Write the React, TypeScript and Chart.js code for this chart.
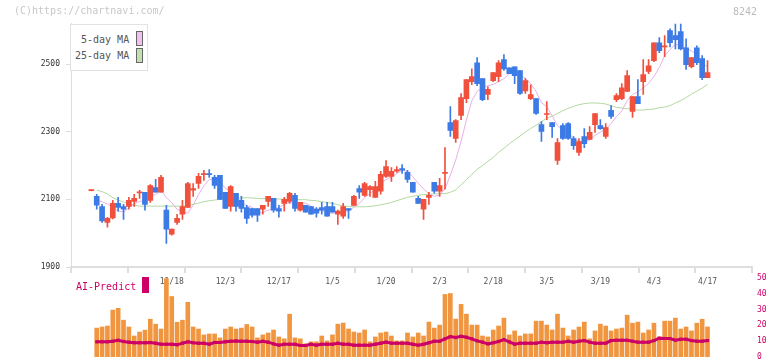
import React, { useEffect, useRef } from 'react';
import { Chart, registerables } from 'chart.js';

Chart.register(...registerables);

// ---- data ----
const dates = [
  '10/27','10/28','10/29','10/30','10/31','11/4','11/5','11/6','11/7','11/10',
  '11/11','11/12','11/13','11/14','11/17','11/18','11/19','11/20','11/21','11/25',
  '11/26','11/27','11/28','12/1','12/2','12/3','12/4','12/5','12/8','12/9',
  '12/10','12/11','12/12','12/15','12/16','12/17','12/18','12/19','12/22','12/23',
  '12/24','12/25','12/26','12/29','12/30','1/5','1/6','1/7','1/8','1/9',
  '1/13','1/14','1/15','1/16','1/19','1/20','1/21','1/22','1/23','1/26',
  '1/27','1/28','1/29','1/30','2/2','2/3','2/4','2/5','2/6','2/9',
  '2/10','2/12','2/13','2/16','2/17','2/18','2/19','2/20','2/24','2/25',
  '2/26','2/27','3/2','3/3','3/4','3/5','3/6','3/9','3/10','3/11',
  '3/12','3/13','3/16','3/17','3/18','3/19','3/23','3/24','3/25','3/26',
  '3/27','3/30','3/31','4/1','4/2','4/3','4/6','4/7','4/8','4/9',
  '4/10','4/13','4/14','4/15','4/16','4/17',
];

const opens = [
  2126,2109,2079,2032,2045,2088,2079,2079,2094,2119,
  2121,2097,2135,2121,2068,1997,2032,2056,2076,2127,
  2147,2173,2176,2165,2171,2121,2079,2118,2097,2076,
  2073,2073,2071,2094,2103,2073,2088,2094,2112,2068,
  2082,2079,2071,2076,2079,2079,2056,2050,2073,2082,
  2132,2112,2129,2106,2124,2168,2168,2183,2191,2180,
  2150,2103,2071,2106,2150,2124,2177,2327,2280,2348,
  2398,2448,2504,2457,2410,2451,2463,2513,2489,2492,
  2481,2421,2398,2398,2321,2351,2327,2215,2318,2324,
  2280,2239,2286,2277,2321,2318,2286,2363,2395,2398,
  2419,2360,2404,2448,2478,2510,2563,2551,2599,2584,
  2596,2548,2492,2548,2516,2460,
];

const highs = [
  2128,2115,2085,2047,2097,2106,2085,2106,2115,2127,
  2121,2144,2159,2171,2082,2012,2056,2097,2150,2147,
  2177,2186,2188,2171,2171,2121,2141,2118,2109,2082,
  2073,2073,2082,2109,2103,2082,2106,2121,2118,2091,
  2082,2079,2076,2091,2091,2091,2068,2088,2073,2112,
  2141,2150,2141,2153,2183,2215,2194,2197,2203,2186,
  2150,2109,2100,2121,2150,2162,2253,2374,2336,2413,
  2454,2486,2519,2457,2433,2475,2510,2528,2489,2492,
  2481,2457,2439,2398,2330,2389,2327,2280,2324,2327,
  2286,2280,2309,2315,2354,2336,2324,2377,2413,2442,
  2481,2404,2454,2513,2513,2563,2578,2584,2604,2619,
  2619,2575,2519,2554,2525,2510,
];

const lows = [
  2125,2071,2032,2018,2042,2065,2041,2071,2079,2103,
  2068,2091,2121,2121,1970,1994,2026,2041,2076,2109,
  2132,2156,2165,2132,2100,2073,2065,2065,2062,2029,
  2047,2035,2056,2079,2062,2047,2065,2088,2065,2065,
  2062,2056,2047,2056,2050,2062,2026,2044,2044,2082,
  2103,2109,2109,2106,2115,2165,2153,2180,2177,2150,
  2121,2088,2041,2085,2118,2109,2130,2286,2268,2336,
  2386,2439,2436,2392,2395,2448,2448,2481,2472,2442,
  2410,2413,2395,2351,2271,2336,2283,2203,2277,2277,
  2248,2230,2253,2277,2298,2307,2280,2339,2389,2395,
  2419,2342,2383,2410,2472,2507,2534,2522,2551,2545,
  2542,2484,2489,2498,2454,2460,
];

const closes = [
  2127,2083,2036,2044,2088,2076,2071,2097,2103,2122,
  2085,2141,2121,2165,2012,2012,2044,2079,2147,2132,
  2168,2176,2173,2141,2100,2073,2138,2079,2073,2044,
  2053,2053,2082,2109,2068,2065,2100,2118,2073,2091,
  2062,2056,2059,2068,2050,2062,2065,2079,2068,2109,
  2121,2147,2138,2138,2174,2197,2183,2188,2186,2159,
  2121,2088,2100,2112,2124,2141,2180,2304,2333,2401,
  2454,2463,2442,2395,2425,2475,2504,2486,2472,2466,
  2413,2451,2410,2354,2301,2354,2315,2268,2280,2280,
  2259,2271,2265,2298,2354,2309,2312,2345,2407,2430,
  2466,2404,2383,2469,2495,2563,2540,2554,2563,2572,
  2545,2498,2519,2504,2460,2475,
];

const ma5 = [
  null,2098,2093,2086,2076,2065,2063,2075,2087,2094,
  2096,2110,2114,2127,2105,2090,2071,2062,2059,2083,
  2114,2140,2159,2158,2152,2133,2125,2106,2093,2081,
  2077,2060,2061,2068,2073,2075,2085,2092,2085,2089,
  2089,2080,2068,2067,2059,2059,2061,2065,2065,2077,
  2088,2105,2117,2131,2144,2159,2166,2176,2186,2183,
  2167,2148,2131,2116,2109,2113,2131,2172,2216,2272,
  2334,2391,2419,2431,2436,2440,2448,2457,2472,2481,
  2468,2458,2442,2419,2386,2374,2347,2318,2304,2299,
  2280,2272,2271,2275,2289,2299,2308,2324,2345,2361,
  2392,2410,2418,2430,2443,2463,2490,2524,2543,2558,
  2555,2546,2539,2528,2505,2491,
];

const ma25 = [
  null,2127,2123,2116,2105,2098,2092,2087,2082,2080,
  2080,2080,2080,2080,2080,2080,2080,2080,2081,2085,
  2089,2093,2096,2098,2100,2101,2102,2103,2104,2105,
  2104,2103,2102,2102,2101,2101,2100,2100,2100,2099,
  2099,2097,2096,2093,2091,2088,2084,2081,2079,2078,
  2078,2078,2079,2081,2084,2087,2091,2096,2101,2106,
  2109,2112,2114,2115,2116,2117,2117,2121,2128,2143,
  2158,2174,2189,2200,2212,2224,2239,2251,2264,2276,
  2287,2299,2310,2319,2330,2340,2346,2354,2362,2369,
  2375,2380,2383,2385,2385,2384,2382,2377,2372,2370,
  2368,2367,2364,2364,2366,2367,2371,2373,2377,2385,
  2392,2401,2411,2420,2429,2440,
];

const volume = [
  null,18.3,19,19.6,29.7,30.8,23.3,19,13.3,15.8,
  17,23.9,20.8,17.7,49.6,38.3,22,23.3,34.6,19,
  17.7,14,14.6,14.6,12.1,17.7,19,17.7,18.3,20.6,
  19,12.1,14,15.2,17.1,12.7,11.5,27.1,12.1,11.5,
  8.3,9.6,9.6,13.3,10.2,14,20.8,21.5,17.7,15.8,
  15.2,17.1,9.6,12.7,15.2,15.8,13.3,10.2,10.2,15.2,
  12.7,15.2,13.3,22.1,18.3,20.2,39.6,40.2,24,33.3,
  27.1,20.2,20.2,13.3,12.7,17.1,19.6,24.6,14,16.5,
  13.3,14.6,14.6,22.7,22.7,20.2,17.1,27.1,18.3,13.3,
  17.1,19,22.1,11.5,16.5,20.8,19.6,16.5,17.7,18.3,
  26.5,21.4,22.1,15.2,17.1,21.4,12.7,22.7,22.7,24.6,
  17.7,19,16.5,21.4,23.9,19,
];

const aiPredict = [
  null,9.6,9.6,9.6,10,10.6,9.8,9.4,9,9,
  9,9.2,8.75,8.1,8.1,8.1,7.7,8.75,9.6,9,
  8.75,8.75,8.1,9.2,9.2,9.6,10,10.2,10,10,
  9.8,9.4,10,9.4,8.3,7.5,8.1,8.1,8.1,7.3,
  7.3,8.1,7.5,8.1,8.1,8.1,8.75,8.1,8.1,7.5,
  7.5,7.5,7.5,8.1,8.75,9.4,8.75,8.75,8.75,8.75,
  8.1,7.5,8.1,9,10,10,11.5,12.9,12.3,13.1,
  12.5,11.5,10.2,9.4,8.3,9,9.8,11,9.6,8.1,
  8.75,8.75,8.75,8.75,9.4,9,9.4,9.4,9.4,10,
  9.4,10,10.4,9.4,8.75,8.75,8.75,10.4,10.6,10.6,
  10.6,10,9.4,9.4,9.4,10.4,11.9,11.7,11.7,10.6,
  11.25,11.25,10.4,10,10,10.4,
];

const tickDates = ['11/18','12/3','12/17','1/5','1/20','2/3','2/18','3/5','3/19','4/3','4/17'];
const priceTicks = [1900, 2100, 2300, 2500];
const volumeTicks = [0, 10, 20, 30, 40, 50];
const axisMarks = [0, 1, 2, 3, 4, 5, 6, 7, 8, 9, 10, 11];

// ---- layout / style ----
const X_MIN = -3.8;
const X_MAX = 123.3;
const PRICE_MIN = 1900;
const PRICE_MAX = 2620;
const VOL_MIN = 0;
const VOL_MAX = 50;
const MONO = "'DejaVu Sans Mono', monospace";
const RED = '#f0503c';
const BLUE = '#3c7ae6';
const PINK = '#e6b0e8';
const GREEN = '#b2d9a0';
const ORANGE = '#f19640';
const MAGENTA = '#cc0066';
const AXIS = '#dedede';

export default function App() {
  const priceRef = useRef<HTMLCanvasElement>(null);
  const volRef = useRef<HTMLCanvasElement>(null);

  useEffect(() => {
    const candleColors = closes.map((c, i) => (c >= opens[i] ? RED : BLUE));
    const smallFont = { family: MONO, size: 8 };

    const priceChart = new Chart(priceRef.current as HTMLCanvasElement, {
      type: 'bar',
      data: {
        datasets: [
          {
            type: 'bar',
            label: 'body',
            data: dates.map((_, i) => ({ x: i, y: [opens[i], closes[i]] })) as any,
            backgroundColor: candleColors,
            barThickness: 5,
            grouped: false,
            minBarLength: 1,
            order: 0,
            xAxisID: 'x',
            yAxisID: 'y',
          } as any,
          {
            type: 'bar',
            label: 'wick',
            data: dates.map((_, i) => ({ x: i, y: [lows[i], highs[i]] })) as any,
            backgroundColor: candleColors,
            barThickness: 1,
            grouped: false,
            minBarLength: 1,
            order: 1,
            xAxisID: 'x',
            yAxisID: 'y',
          } as any,
          {
            type: 'line',
            label: '5-day MA',
            data: ma5.map((v, i) => ({ x: i, y: v })) as any,
            borderColor: PINK,
            borderWidth: 1,
            pointRadius: 0,
            tension: 0,
            order: 2,
            xAxisID: 'x',
            yAxisID: 'y',
          } as any,
          {
            type: 'line',
            label: '25-day MA',
            data: ma25.map((v, i) => ({ x: i, y: v })) as any,
            borderColor: GREEN,
            borderWidth: 1,
            pointRadius: 0,
            tension: 0,
            order: 3,
            xAxisID: 'x',
            yAxisID: 'y',
          } as any,
        ],
      },
      options: {
        responsive: false,
        animation: false,
        devicePixelRatio: 1,
        events: [],
        layout: { padding: { top: 23.5, right: 20, bottom: 0, left: 0 } },
        plugins: { legend: { display: false }, tooltip: { enabled: false } },
        scales: {
          x: {
            type: 'linear',
            axis: 'x',
            position: 'bottom',
            min: X_MIN,
            max: X_MAX,
            offset: false,
            grid: { display: false, drawTicks: false, offset: false },
            border: { display: true, color: AXIS, width: 2 },
            afterBuildTicks: (s: any) => {
              s.ticks = tickDates.map((d) => ({ value: dates.indexOf(d) }));
            },
            ticks: {
              autoSkip: false,
              maxRotation: 0,
              padding: 10,
              color: '#555',
              font: smallFont,
              callback: (v: any) => dates[v as number] ?? '',
            },
            afterFit: (s: any) => {
              s.height = 94;
              s.paddingLeft = 0;
              s.paddingRight = 0;
            },
          } as any,
          xt: {
            type: 'linear',
            axis: 'x',
            position: { y: PRICE_MIN },
            min: 0,
            max: 11,
            afterBuildTicks: (s: any) => {
              s.ticks = axisMarks.map((v) => ({ value: v }));
            },
            grid: { display: true, drawOnChartArea: false, drawTicks: true, tickLength: 6, color: AXIS, lineWidth: 2 },
            border: { display: false },
            ticks: { display: false },
          } as any,
          y: {
            type: 'linear',
            position: 'left',
            min: PRICE_MIN,
            max: PRICE_MAX,
            afterBuildTicks: (s: any) => {
              s.ticks = priceTicks.map((v) => ({ value: v }));
            },
            grid: { drawOnChartArea: false, drawTicks: true, tickLength: 5, color: AXIS },
            border: { display: true, color: AXIS, width: 1 },
            ticks: {
              padding: 6,
              color: '#333',
              font: smallFont,
              callback: (v: any) => String(v),
            },
            afterFit: (s: any) => {
              s.width = 71;
              s.paddingTop = 0;
              s.paddingBottom = 0;
            },
          } as any,
        },
      } as any,
    });

    const volChart = new Chart(volRef.current as HTMLCanvasElement, {
      type: 'bar',
      data: {
        datasets: [
          {
            type: 'line',
            label: 'AI-Predict',
            data: aiPredict.map((v, i) => ({ x: i, y: v })) as any,
            borderColor: MAGENTA,
            backgroundColor: MAGENTA,
            borderWidth: 3,
            pointStyle: 'rect',
            pointRadius: 2.2,
            pointBorderWidth: 0,
            pointBackgroundColor: MAGENTA,
            tension: 0,
            order: 0,
          } as any,
          {
            type: 'bar',
            label: 'Volume',
            data: volume.map((v, i) => ({ x: i, y: v })) as any,
            backgroundColor: ORANGE,
            barThickness: 4,
            grouped: false,
            order: 1,
          } as any,
        ],
      },
      options: {
        responsive: false,
        animation: false,
        devicePixelRatio: 1,
        events: [],
        layout: { padding: { top: 278, right: 0, bottom: 2.5, left: 71 } },
        plugins: { legend: { display: false }, tooltip: { enabled: false } },
        scales: {
          x: {
            type: 'linear',
            min: X_MIN,
            max: X_MAX,
            offset: false,
            display: false,
            grid: { offset: false },
          } as any,
          y: {
            type: 'linear',
            position: 'right',
            min: VOL_MIN,
            max: VOL_MAX,
            afterBuildTicks: (s: any) => {
              s.ticks = volumeTicks.map((v) => ({ value: v }));
            },
            grid: { display: false, drawTicks: false },
            border: { display: false },
            ticks: {
              padding: 5,
              color: MAGENTA,
              font: smallFont,
              callback: (v: any) => String(v),
            },
            afterFit: (s: any) => {
              s.width = 20;
              s.paddingTop = 0;
              s.paddingBottom = 0;
            },
          } as any,
        },
      } as any,
    });

    return () => {
      priceChart.destroy();
      volChart.destroy();
    };
  }, []);

  const text10: React.CSSProperties = {
    position: 'absolute',
    fontFamily: MONO,
    fontSize: 10,
    lineHeight: '12px',
    whiteSpace: 'pre',
  };

  return (
    <div
      style={{
        position: 'fixed',
        left: 0,
        top: 0,
        width: 772,
        height: 361,
        background: '#fff',
        overflow: 'hidden',
      }}
    >
      <canvas ref={priceRef} width={772} height={361} style={{ position: 'absolute', left: 0, top: 0 }} />
      <canvas ref={volRef} width={772} height={361} style={{ position: 'absolute', left: 0, top: 0 }} />

      <div style={{ ...text10, left: 14, top: 5, color: '#c8c8c8' }}>(C)https://chartnavi.com/</div>
      <div style={{ ...text10, right: 15, top: 6, color: '#bbbbbb' }}>8242</div>

      <div
        style={{
          position: 'absolute',
          left: 70,
          top: 24,
          width: 78,
          height: 47,
          boxSizing: 'border-box',
          border: '1px solid #e2e2e2',
          background: '#fff',
        }}
      />
      <div style={{ ...text10, left: 81, top: 33.5, color: '#555' }}>5-day MA</div>
      <div
        style={{
          position: 'absolute',
          left: 136,
          top: 31,
          width: 7,
          height: 15,
          boxSizing: 'border-box',
          border: '1px solid #666',
          background: '#f0c0f0',
        }}
      />
      <div style={{ ...text10, left: 75, top: 50, color: '#555' }}>25-day MA</div>
      <div
        style={{
          position: 'absolute',
          left: 136,
          top: 48,
          width: 7,
          height: 15,
          boxSizing: 'border-box',
          border: '1px solid #666',
          background: '#c0e0b0',
        }}
      />

      <div style={{ ...text10, left: 76, top: 280.5, color: MAGENTA }}>AI-Predict</div>
      <div style={{ position: 'absolute', left: 142, top: 277, width: 7, height: 16, background: MAGENTA }} />
    </div>
  );
}
